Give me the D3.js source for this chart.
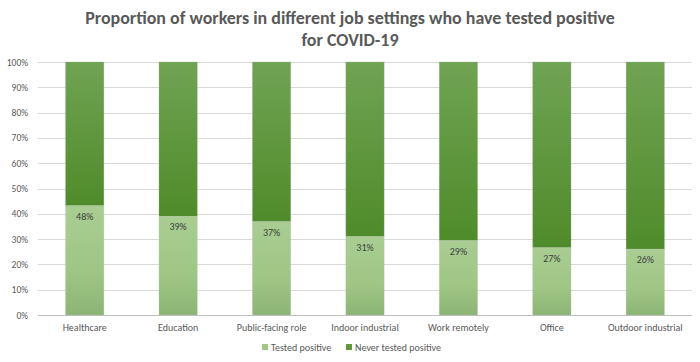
<!DOCTYPE html>
<html><head><meta charset="utf-8">
<script src="https://cdn.jsdelivr.net/npm/d3@7"></script>
<style>body{margin:0;background:#fff}svg{display:block}</style>
</head><body><svg id="c" width="700" height="362"></svg>
<script>
const categories = ["Healthcare","Education","Public-facing role","Indoor industrial","Work remotely","Office","Outdoor industrial"];
const testedPositive = [43.2, 39, 36.9, 31, 29.4, 26.6, 26];
const testedLabels = ["48%","39%","37%","31%","29%","27%","26%"];
const yTicks = [0,10,20,30,40,50,60,70,80,90,100];
const seriesNames = ["Tested positive","Never tested positive"];

const svg = d3.select("#c");
const font = "Calibri, Carlito, 'Open Sans', 'Noto Sans', sans-serif";
const txt = "#595959";
const m = {l:38, r:692, t:62, b:315};

const defs = svg.append("defs");
const g1 = defs.append("linearGradient").attr("id","gl").attr("x1",0).attr("x2",0).attr("y1",0).attr("y2",1);
g1.append("stop").attr("offset","0%").attr("stop-color","#a9cd92");
g1.append("stop").attr("offset","60%").attr("stop-color","#9fc685");
g1.append("stop").attr("offset","100%").attr("stop-color","#8cb474");
const g2 = defs.append("linearGradient").attr("id","gd").attr("x1",0).attr("x2",0).attr("y1",0).attr("y2",1);
g2.append("stop").attr("offset","0%").attr("stop-color","#70a353");
g2.append("stop").attr("offset","100%").attr("stop-color","#4f8b2a");

const x = d3.scaleBand().domain(categories).range([m.l, m.r]).paddingInner(0.59).paddingOuter(0.295);
const y = d3.scaleLinear().domain([0,100]).range([m.b, m.t]);

// title
const title = svg.append("text").attr("x",350).attr("text-anchor","middle")
  .attr("font-family",font).attr("font-weight","bold").attr("fill",txt).attr("font-size",17);
const t1 = title.append("tspan").attr("x",350).attr("y",24).text("Proportion of workers in different job settings who have tested positive");
title.append("tspan").attr("x",350).attr("y",46).text("for COVID-19");
const w1 = t1.node().getComputedTextLength();
title.attr("font-size", 17 * 530 / w1);

// grid
svg.append("g").selectAll("line").data(yTicks).join("line")
  .attr("x1",m.l).attr("x2",m.r).attr("y1",d=>Math.round(y(d))+0.5).attr("y2",d=>Math.round(y(d))+0.5)
  .attr("stroke",d=>d===0?"#bfbfbf":"#d9d9d9").attr("stroke-width",1);

// y axis labels
const yAxis = d3.axisLeft(y).tickValues(yTicks).tickFormat(d=>d+"%").tickSize(0).tickPadding(0);
const ya = svg.append("g").attr("transform","translate(28,0)").call(yAxis);
ya.select(".domain").remove();
ya.selectAll("text").attr("font-family",font).attr("font-size",9.5).attr("fill",txt);

// bars
const bars = svg.append("g");
categories.forEach((c,i)=>{
  const v = testedPositive[i];
  bars.append("rect").attr("x",x(c)).attr("width",x.bandwidth())
    .attr("y",y(100)).attr("height",y(v)-y(100)).attr("fill","url(#gd)")
    .attr("stroke","#9fb096").attr("stroke-opacity",0.35).attr("stroke-width",0.8);
  bars.append("rect").attr("x",x(c)).attr("width",x.bandwidth())
    .attr("y",y(v)).attr("height",y(0)-y(v)).attr("fill","url(#gl)")
    .attr("stroke","#b5c4ad").attr("stroke-opacity",0.35).attr("stroke-width",0.8);
  bars.append("text").attr("x",x(c)+x.bandwidth()/2).attr("y",y(v)+14)
    .attr("text-anchor","middle").attr("font-family",font).attr("font-size",10).attr("fill","#404040")
    .text(testedLabels[i]);
});

// x axis labels
const xAxis = d3.axisBottom(x).tickSize(0).tickPadding(0);
const xa = svg.append("g").attr("transform","translate(0,"+(m.b+9)+")").call(xAxis);
xa.select(".domain").remove();
xa.selectAll("text").attr("font-family",font).attr("font-size",10).attr("fill",txt);

// legend
const lg = svg.append("g").attr("font-family",font).attr("font-size",10).attr("fill",txt);
const legendX = [262, 346];
const legendFill = ["#a2c68a","#5f9a3c"];
seriesNames.forEach((s,i)=>{
  lg.append("rect").attr("x",legendX[i]).attr("y",344).attr("width",6).attr("height",6).attr("fill",legendFill[i]);
  lg.append("text").attr("x",legendX[i]+9).attr("y",351).text(s);
});
</script></body></html>
